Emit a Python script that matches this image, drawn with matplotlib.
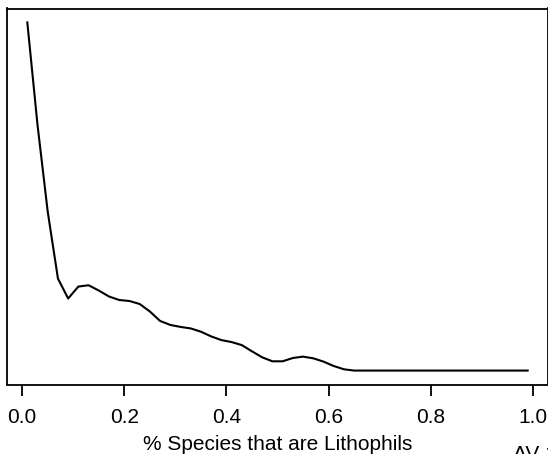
import numpy as np
import matplotlib
matplotlib.use("Agg")
import matplotlib.pyplot as plt

plt.rcParams['font.family'] = ['Liberation Sans', 'DejaVu Sans']

# proportion of lithophil species (bin centres)
prop = [0.01, 0.03, 0.05, 0.07, 0.09, 0.11, 0.13, 0.15, 0.17, 0.19,
        0.21, 0.23, 0.25, 0.27, 0.29, 0.31, 0.33, 0.35, 0.37, 0.39,
        0.41, 0.43, 0.45, 0.47, 0.49, 0.51, 0.53, 0.55, 0.57, 0.59,
        0.61, 0.63, 0.65, 0.67, 0.69, 0.71, 0.73, 0.75, 0.77, 0.79,
        0.81, 0.83, 0.85, 0.87, 0.89, 0.91, 0.93, 0.95, 0.97, 0.99]
# curve height (arbitrary units)
dens = [349.3, 246.3, 159.3, 92.3, 72.3, 84.3, 85.6, 80.3, 74.3, 70.8,
        69.8, 66.8, 59.3, 49.8, 45.8, 43.8, 42.3, 39.0, 34.3, 30.6,
        28.6, 25.6, 19.3, 13.3, 9.3, 9.3, 12.6, 14.0, 12.3, 9.0,
        4.6, 1.3, 0.0, 0.0, 0.0, 0.0, 0.0, 0.0, 0.0, 0.0,
        0.0, 0.0, 0.0, 0.0, 0.0, 0.0, 0.0, 0.0, 0.0, 0.0]
xticks = [0.0, 0.2, 0.4, 0.6, 0.8, 1.0]

fig = plt.figure(figsize=(5.48, 4.54), dpi=100)
ax = fig.add_axes([7.3 / 548, 1 - 384.5 / 454, 540.4 / 548, 376 / 454])

ax.plot(prop, dens, color='black', lw=1.5)

# R style 4% padding
xr = max(prop) - min(prop)
yr = max(dens) - min(dens)
ax.set_xlim(min(prop) - 0.04 * xr, max(prop) + 0.04 * xr)
ax.set_ylim(min(dens) - 0.04 * yr, max(dens) + 0.04 * yr)

ax.set_xticks(xticks)
ax.set_xticklabels(["%.1f" % t for t in xticks])
ax.set_yticks([])
ax.tick_params(axis='x', direction='out', length=8, width=1.3, pad=9,
               labelsize=15)
for s in ax.spines.values():
    s.set_linewidth(1.3)

ax.set_xlabel("% Species that are Lithophils", fontsize=15, labelpad=6)
fig.text(512.7 / 548, 1 - 445.5 / 454, "AV 1", fontsize=15, va='top', ha='left')

fig.savefig("out.png", dpi=100)
